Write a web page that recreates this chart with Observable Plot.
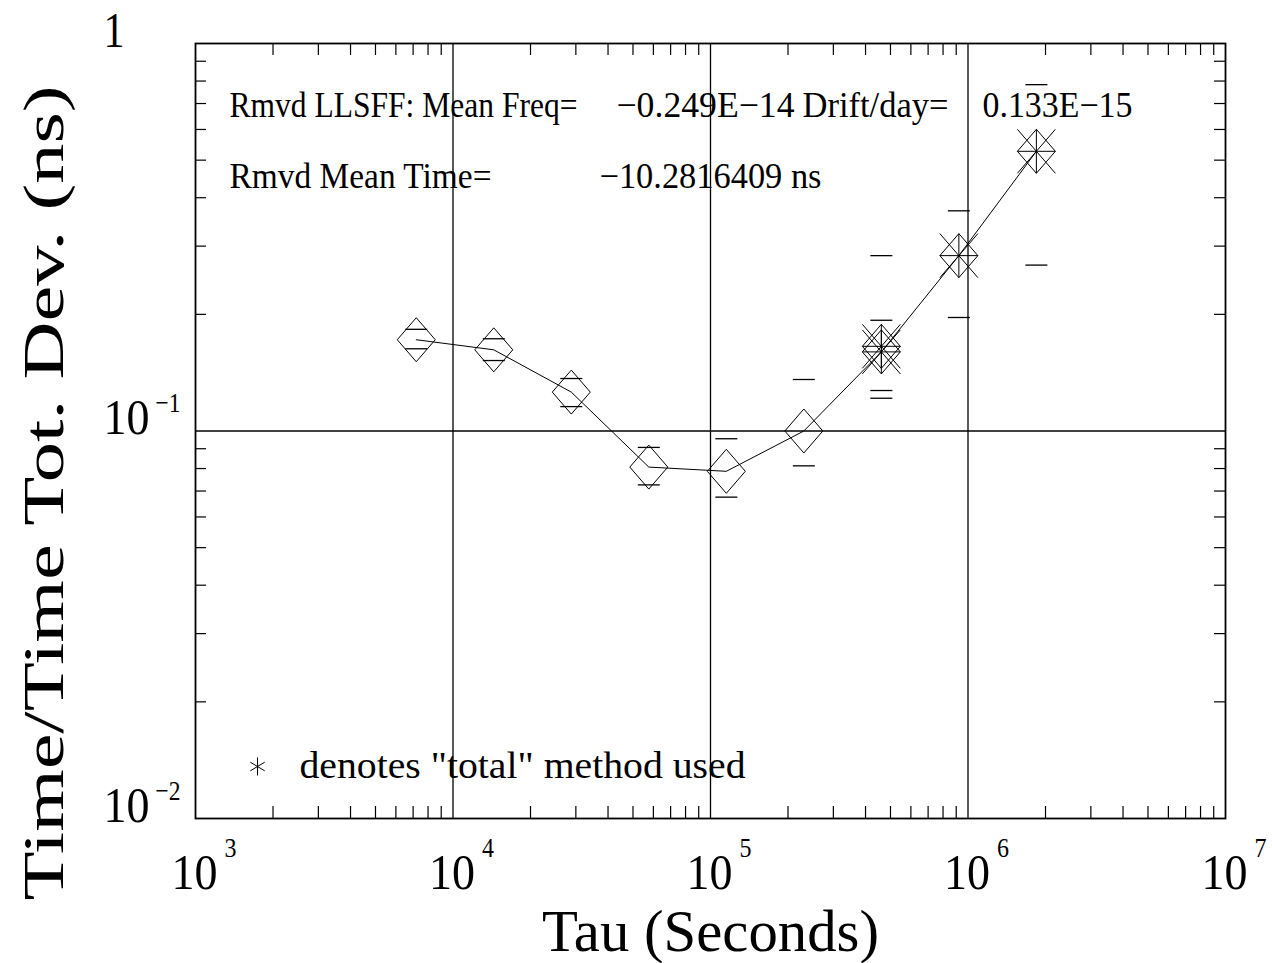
<!DOCTYPE html>
<html><head><meta charset="utf-8">
<script src="https://cdn.jsdelivr.net/npm/d3@7"></script>
<script src="https://cdn.jsdelivr.net/npm/@observablehq/plot@0.6"></script>
<style>body{margin:0;background:#fff}</style>
</head><body><div id="chart"></div>
<script>
// ---- data ----
const tau    = [7200, 14400, 28800, 57600, 115200, 230400, 460800, 460800, 921600, 1843200];
const dev    = [0.172, 0.162, 0.126, 0.0807, 0.0787, 0.100, 0.1654, 0.160, 0.2835, 0.527];
const devLo  = [0.163, 0.152, 0.1156, 0.0726, 0.0675, 0.0813, 0.1272, 0.1215, 0.1963, 0.268];
const devHi  = [0.183, 0.173, 0.1366, 0.0907, 0.0955, 0.1358, 0.1931, 0.2835, 0.370, 0.783];
const totalMethod = [false, false, false, false, false, false, true, true, true, true];
const onLine = [true, true, true, true, true, true, false, true, true, true];

const xTickExp = [3, 4, 5, 6, 7];
const yTickExp = [-2, -1, 0];
const xGrid = [1e4, 1e5, 1e6];
const yGrid = [0.1];
const minorMult = [2, 3, 4, 5, 6, 7, 8, 9];
const xDecades = [1e3, 1e4, 1e5, 1e6];
const yDecades = [0.01, 0.1];

const xTitle = "Tau (Seconds)";
const yTitle = "Time/Time Tot. Dev. (ns)";
const annoText = ["Rmvd LLSFF: Mean Freq=", "\u22120.249E\u221214", "Drift/day=", "0.133E\u221215",
                  "Rmvd Mean Time=", "\u221210.2816409 ns"];
const legendText = "denotes \"total\" method used";

// ---- derived tables ----
const pts = tau.map((t, i) => ({tau: t, dev: dev[i], lo: devLo[i], hi: devHi[i], total: totalMethod[i], line: onLine[i]}));
const minorX = xDecades.flatMap(d => minorMult.map(m => d * m));
const minorY = yDecades.flatMap(d => minorMult.map(m => d * m));

// ---- layout (pixels) ----
const W = 1272, H = 963, mL = 195, mR = 47, mT = 43, mB = 145;
const fw = W - mL - mR, fh = H - mT - mB;
const font = "Liberation Serif";

// annotation placement (offsets from frame top-left) and widths
const annoPos = [[34, 73], [421, 73], [607, 73], [787, 73], [34, 144], [404, 144]];
const annoW = [348, 178, 146, 150, 262, 222];

// ---- custom symbols ----
const diamondSym = {draw(c, s) { const r = Math.sqrt(s / Math.PI), w = r * 0.95, h = r * 1.1;
  c.moveTo(0, -h); c.lineTo(w, 0); c.lineTo(0, h); c.lineTo(-w, 0); c.closePath(); }};
const totalSym = {draw(c, s) { const r = Math.sqrt(s / Math.PI), w = r * 0.95, h = r * 1.1;
  c.moveTo(0, -h); c.lineTo(w, 0); c.lineTo(0, h); c.lineTo(-w, 0); c.closePath();
  c.moveTo(-w, -h); c.lineTo(w, h); c.moveTo(w, -h); c.lineTo(-w, h);
  c.moveTo(-w, 0); c.lineTo(w, 0); c.moveTo(0, -h); c.lineTo(0, h); }};
const dashSym = {draw(c, s) { const r = Math.sqrt(s / Math.PI); c.moveTo(-r, 0); c.lineTo(r, 0); }};
const starSym = {draw(c, s) { const r = Math.sqrt(s / Math.PI), a = r * 0.8;
  c.moveTo(0, -r); c.lineTo(0, r); c.moveTo(-a, -a * 0.6); c.lineTo(a, a * 0.6); c.moveTo(a, -a * 0.6); c.lineTo(-a, a * 0.6); }};

const txt = {fontFamily: font, fill: "black"};

const chart = Plot.plot({
  width: W, height: H,
  marginLeft: mL, marginRight: mR, marginTop: mT, marginBottom: mB,
  x: {type: "log", domain: [1e3, 1e7], axis: null},
  y: {type: "log", domain: [0.01, 1], axis: null},
  style: {background: "white"},
  marks: [
    // grid
    Plot.ruleX(xGrid, {x: d => d, stroke: "black", strokeWidth: 1.3}),
    Plot.ruleY(yGrid, {y: d => d, stroke: "black", strokeWidth: 1.3}),
    // minor ticks, inside all four sides
    Plot.tickX(minorX, {x: d => d, insetTop: fh - 12, stroke: "black", strokeWidth: 1.2}),
    Plot.tickX(minorX, {x: d => d, insetBottom: fh - 12, stroke: "black", strokeWidth: 1.2}),
    Plot.tickY(minorY, {y: d => d, insetRight: fw - 11, stroke: "black", strokeWidth: 1.2}),
    Plot.tickY(minorY, {y: d => d, insetLeft: fw - 11, stroke: "black", strokeWidth: 1.2}),
    Plot.frame({stroke: "black", strokeWidth: 1.8}),
    // connecting line
    Plot.line(pts.filter(d => d.line), {x: "tau", y: "dev", stroke: "black", strokeWidth: 1}),
    // error-bar dashes
    Plot.dot(pts, {x: "tau", y: "lo", symbol: dashSym, r: 11, stroke: "black", strokeWidth: 1.3}),
    Plot.dot(pts, {x: "tau", y: "hi", symbol: dashSym, r: 11, stroke: "black", strokeWidth: 1.3}),
    // markers
    Plot.dot(pts.filter(d => !d.total), {x: "tau", y: "dev", symbol: diamondSym, r: 20, stroke: "black", fill: "none", strokeWidth: 1}),
    Plot.dot(pts.filter(d => d.total), {x: "tau", y: "dev", symbol: totalSym, r: 20, stroke: "black", fill: "none", strokeWidth: 1}),
    // x tick labels
    Plot.text(xTickExp, {x: e => 10 ** e, frameAnchor: "bottom", text: () => "10", dx: -1, dy: 70, lineAnchor: "bottom", textAnchor: "middle", fontSize: 51, ...txt}),
    Plot.text(xTickExp, {x: e => 10 ** e, frameAnchor: "bottom", text: e => String(e), dx: 29, dy: 38, lineAnchor: "bottom", textAnchor: "start", fontSize: 28, ...txt}),
    // y tick labels
    Plot.text(yTickExp, {y: e => 10 ** e, frameAnchor: "left", text: e => e === 0 ? "1" : "10", dx: -92, dy: 3, lineAnchor: "bottom", textAnchor: "start", fontSize: 51, ...txt}),
    Plot.text(yTickExp.filter(e => e !== 0), {y: e => 10 ** e, frameAnchor: "left", text: e => "\u2212" + Math.abs(e), dx: -40, dy: -19, lineAnchor: "bottom", textAnchor: "start", fontSize: 28, ...txt}),
    // axis titles
    Plot.text([xTitle], {frameAnchor: "bottom", text: d => d, dy: 132, lineAnchor: "bottom", textAnchor: "middle", fontSize: 60, ...txt}),
    Plot.text([yTitle], {frameAnchor: "left", text: d => d, dx: -133, dy: 62, rotate: -90, lineAnchor: "bottom", textAnchor: "middle", fontSize: 58, ...txt}),
    // annotations
    ...annoText.map((t, i) => Plot.text([t], {frameAnchor: "top-left", text: d => d, dx: annoPos[i][0], dy: annoPos[i][1], lineAnchor: "bottom", textAnchor: "start", fontSize: 36, ...txt})),
    // legend
    Plot.dot([0], {frameAnchor: "bottom-left", dx: 62, dy: -52, symbol: starSym, r: 9, stroke: "black", strokeWidth: 1}),
    Plot.text([legendText], {frameAnchor: "bottom-left", text: d => d, dx: 104, dy: -41, lineAnchor: "bottom", textAnchor: "start", fontSize: 37, ...txt})
  ]
});

// condensed look of the original stroke font: fix text advance widths
const widths = new Map([
  ["10", 46], ["1", 21], ["3", 12], ["4", 12], ["5", 12], ["6", 12], ["7", 12],
  ["\u22121", 25], ["\u22122", 25],
  [xTitle, 337], [yTitle, 815], [legendText, 446]
]);
annoText.forEach((t, i) => widths.set(t, annoW[i]));
chart.querySelectorAll("text").forEach(t => {
  const w = widths.get(t.textContent);
  if (w) { t.setAttribute("textLength", w); t.setAttribute("lengthAdjust", "spacingAndGlyphs"); }
});
document.getElementById("chart").appendChild(chart);
</script>
</body></html>
